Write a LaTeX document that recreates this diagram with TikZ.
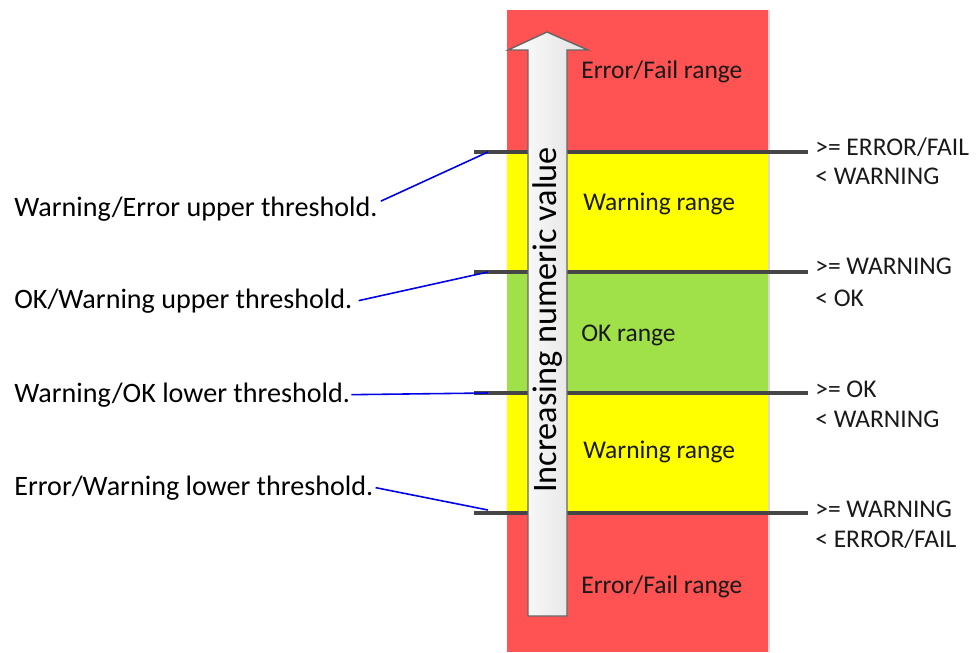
\documentclass[tikz,border=0pt]{standalone}
\usepackage{fontspec}
\setmainfont{Carlito}
\usepackage{tikz}
\usetikzlibrary{calc,positioning}
\definecolor{failred}{RGB}{255,82,82}
\definecolor{warnyellow}{RGB}{255,255,0}
\definecolor{okgreen}{RGB}{160,224,72}
\definecolor{thrgray}{RGB}{70,70,70}
\definecolor{leadblue}{RGB}{0,0,230}
\tikzset{
    rangelbl/.style={anchor=base west,inner sep=0pt,text=black!90,font=\fontsize{14.5}{17}\selectfont},
    limlbl/.style={anchor=base west,inner sep=0pt,text=black!90,font=\fontsize{14.5}{17}\selectfont},
    thrlbl/.style={anchor=base west,inner sep=0pt,text=black,font=\fontsize{16}{19}\selectfont},
    thrline/.style={line width=2.1pt,draw=thrgray},
    leadline/.style={line width=0.9pt,draw=leadblue}
}

\begin{document}
\begin{tikzpicture}[x=0.02cm,y=-0.02cm]
  \useasboundingbox (0,0) rectangle (976,652);

  % colour bands
  \fill[failred]    (507,10)  rectangle (769,152);
  \fill[warnyellow] (507,152) rectangle (769,272);
  \fill[okgreen]    (507,272) rectangle (769,393);
  \fill[warnyellow] (507,393) rectangle (769,513);
  \fill[failred]    (507,513) rectangle (769,652);
  \draw[black!15,line width=0.8pt] (769,10) -- (769,652);

  % threshold lines
  \foreach \y [count=\i] in {152,272,393,513}{
    \coordinate (tw\i) at (474,\y);
    \coordinate (te\i) at (808,\y);
    \coordinate (ta\i) at (488,\y);
    \draw[thrline] (tw\i) -- (te\i);
  }

  % arrow
  \draw[gray!80!black,line width=0.8pt,left color=white,right color=black!12]
    (528,616) -- (528,50) -- (508,50) -- (547,32) -- (588,50)
    -- (567,50) -- (567,616) -- cycle;
  \node[rotate=90,inner sep=0pt,font=\fontsize{19.5}{22}\selectfont]
    (axis) at (548,320) {Increasing numeric value};

  % range names
  \node[rangelbl] (r1) at (581,79)  {Error/Fail range};
  \node[rangelbl] (r2) at (583,210) {Warning range};
  \node[rangelbl] (r3) at (581,341) {OK range};
  \node[rangelbl] (r4) at (583,458) {Warning range};
  \node[rangelbl] (r5) at (581,593) {Error/Fail range};

  % limits on the right
  \node[limlbl] (l1a) at (815,155) {>= ERROR/FAIL};
  \node[limlbl] (l1b) at (815,184) {< WARNING};
  \node[limlbl] (l2a) at (815,274) {>= WARNING};
  \node[limlbl] (l2b) at (815,306) {< OK};
  \node[limlbl] (l3a) at (815,397) {>= OK};
  \node[limlbl] (l3b) at (815,427) {< WARNING};
  \node[limlbl] (l4a) at (815,517) {>= WARNING};
  \node[limlbl] (l4b) at (815,547) {< ERROR/FAIL};

  % thresholds on the left
  \node[thrlbl] (h1) at (14,216) {Warning/Error upper threshold.};
  \node[thrlbl] (h2) at (14,308) {OK/Warning upper threshold.};
  \node[thrlbl] (h3) at (14,402) {Warning/OK lower threshold.};
  \node[thrlbl] (h4) at (14,495) {Error/Warning lower threshold.};

  \draw[leadline] ($(h1.north east)+(3,5)$) -- (ta1);
  \draw[leadline] ($(h2.east)+(6,0)$) -- (ta2);
  \draw[leadline] ($(h3.east)+(1,0)$) -- (ta3);
  \draw[leadline] ($(h4.east)+(2,0)$) -- ($(ta4)+(0,-3)$);
\end{tikzpicture}
\end{document}
